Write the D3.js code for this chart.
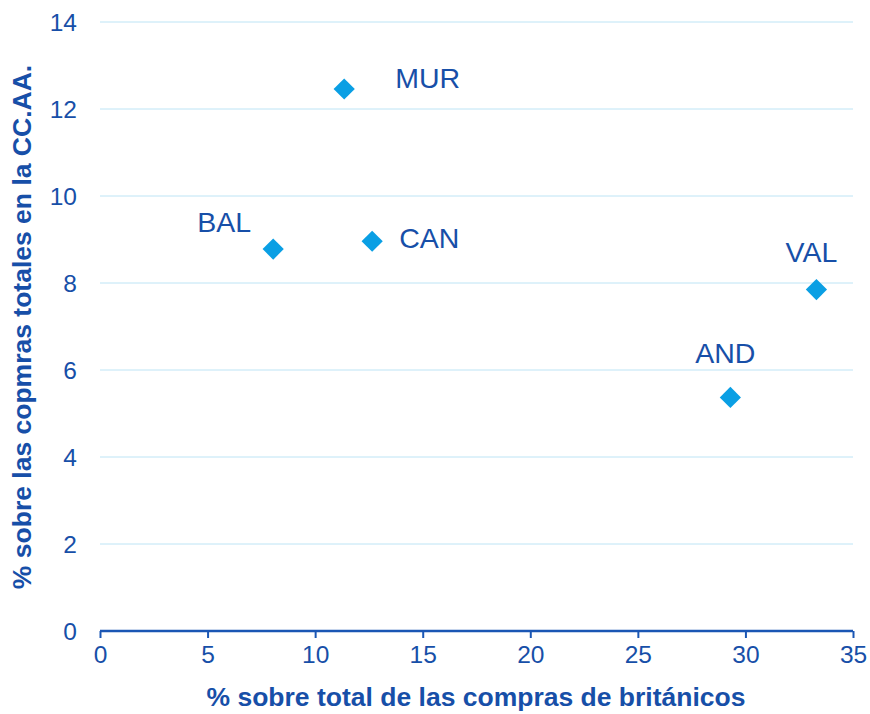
<!DOCTYPE html>
<html><head><meta charset="utf-8">
<script src="https://cdn.jsdelivr.net/npm/d3@7"></script>
<style>body{margin:0;background:#fff}</style></head>
<body><svg id="c" width="870" height="714"></svg>
<script>
const regions = ["MUR","BAL","CAN","VAL","AND"];
const shareBritish = [11.35, 8.05, 12.65, 33.3, 29.3];
const shareTotal = [12.46, 8.78, 8.96, 7.85, 5.37];
const labelPos = ["right","upleft","right","above","above"];
const xTicks = [0,5,10,15,20,25,30,35];
const yTicks = [0,2,4,6,8,10,12,14];
const xTitle = "% sobre total de las compras de británicos";
const yTitle = "% sobre las copmras totales en la CC.AA.";

const textCol = "#174fa8", axisCol = "#1a56b4", gridCol = "#bde4f5", markCol = "#0a9fe4";
const svg = d3.select("#c");
const x = d3.scaleLinear().domain([0,35]).range([100,853]);
const y = d3.scaleLinear().domain([0,14]).range([631,22]);
const font = "Liberation Sans, Arial, sans-serif";

// gridlines
svg.append("g").selectAll("line").data(yTicks.filter(d=>d>0)).join("line")
  .attr("x1",x(0)).attr("x2",x(35)).attr("y1",d=>y(d)).attr("y2",d=>y(d))
  .attr("stroke",gridCol).attr("stroke-width",1);

// y labels
svg.append("g").selectAll("text").data(yTicks).join("text")
  .attr("x",77).attr("y",d=>y(d)).attr("dy","0.35em").attr("text-anchor","end")
  .attr("font-family",font).attr("font-size",24.5).attr("fill",textCol).text(d=>d);

// x axis
const xa = svg.append("g").attr("transform",`translate(0,${y(0)})`)
  .call(d3.axisBottom(x).tickValues(xTicks).tickSize(7).tickPadding(8));
xa.select(".domain").attr("stroke",axisCol).attr("stroke-width",2.5).attr("d",`M${x(0)},0H${x(35)}`);
xa.selectAll(".tick line").attr("stroke",axisCol).attr("stroke-width",2);
xa.selectAll(".tick text").attr("font-family",font).attr("font-size",24.5).attr("fill",textCol);

// titles
svg.append("text").attr("x",476).attr("y",697).attr("dy","0.35em").attr("text-anchor","middle")
  .attr("font-family",font).attr("font-size",26.5).attr("font-weight","bold").attr("fill",textCol).text(xTitle);
svg.append("text").attr("transform","translate(22,327) rotate(-90)").attr("dy","0.35em").attr("text-anchor","middle")
  .attr("font-family",font).attr("font-size",26.5).attr("font-weight","bold").attr("fill",textCol).text(yTitle);

// markers (rotated squares)
const data = regions.map((r,i)=>({r, x:shareBritish[i], y:shareTotal[i], p:labelPos[i]}));
svg.append("g").selectAll("path").data(data).join("path")
  .attr("d", d3.symbol().type(d3.symbolSquare).size(225))
  .attr("transform", d=>`translate(${x(d.x)},${y(d.y)}) rotate(45)`)
  .attr("fill",markCol);

// labels
const offs = {right:[27,-3,"start"], upleft:[-22,-27,"end"], above:[-5,-38,"middle"]};
svg.append("g").selectAll("text").data(data).join("text")
  .attr("font-family",font).attr("font-size",28.5).attr("fill",textCol)
  .attr("text-anchor",d=>offs[d.p][2])
  .attr("x",d=>x(d.x)+offs[d.p][0] + (d.r==="MUR"?24:0))
  .attr("y",d=>y(d.y)+offs[d.p][1] + (d.r==="MUR"?-8:0) + (d.r==="AND"?-6:0))
  .attr("dy","0.35em")
  .text(d=>d.r);
</script></body></html>
